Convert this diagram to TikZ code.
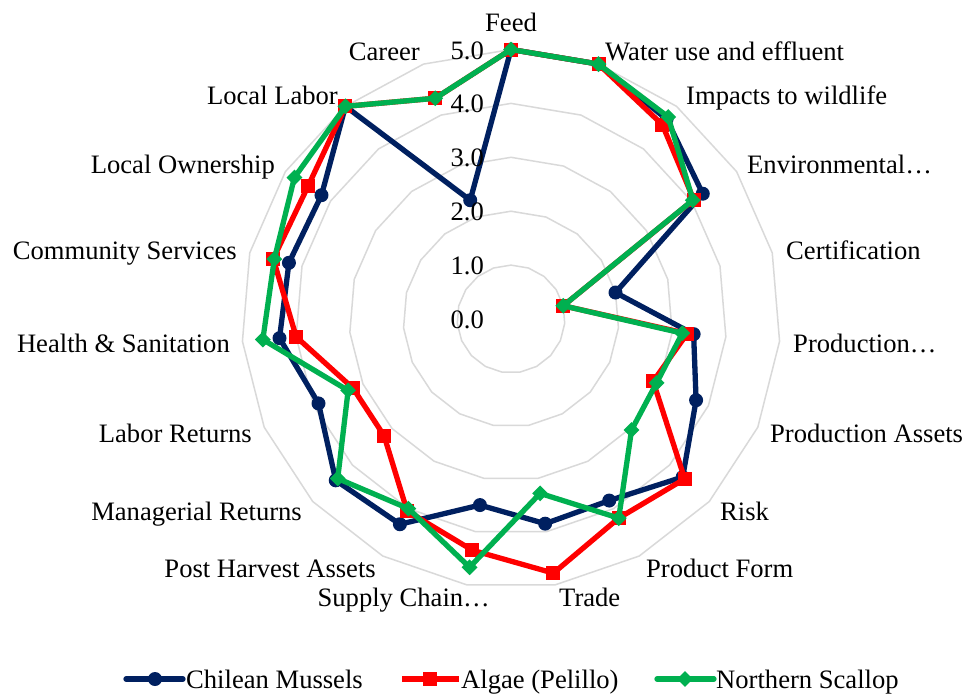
\documentclass[tikz,border=0pt]{standalone}
\usepackage{fontspec}
\setmainfont{Liberation Serif}
\usetikzlibrary{shapes.geometric}
\definecolor{cmnavy}{HTML}{002060}
\definecolor{algred}{HTML}{FF0000}
\definecolor{scgreen}{HTML}{00B050}
\definecolor{gridgray}{HTML}{D9D9D9}
\begin{document}
\begin{tikzpicture}[x=1pt,y=-1pt,
  gridring/.style={draw=gridgray,line width=1.5pt},
  serie/.style={line width=5.3pt,line join=round},
  lbl/.style={inner sep=0pt,font=\fontsize{26.6}{30}\selectfont},
  navymk/.style={circle,fill=cmnavy,inner sep=0pt,minimum size=14pt},
  redmk/.style={rectangle,fill=algred,inner sep=0pt,minimum size=14pt},
  greenmk/.style={diamond,fill=scgreen,inner sep=0pt,minimum size=16pt},
]
\fill[white] (0,0) rectangle (966,696);
\useasboundingbox (0,0) rectangle (966,696);

\begin{scope}[shift={(511,319)}]
% grid rings
\foreach \k in {1,...,5}{
  \draw[gridring] (-90:\k*53.9) \foreach \i in {1,...,18}{ -- (\i*360/19-90:\k*53.9)} -- cycle;
}
% data points
\foreach \v [count=\i from 0] in {5,5,4.7,4.25,2,3.4,3.75,4.33,3.83,3.85,3.5,4.33,4.42,3.9,4.31,4.25,4.2,5,2.33}
  \coordinate (c\i) at (\i*360/19-90:\v*53.9);
\foreach \v [count=\i from 0] in {5,5,4.57,4.05,1,3.28,2.88,4.38,4.2,4.78,4.35,4.05,3.2,3.2,4.0,4.55,4.5,5,4.33}
  \coordinate (a\i) at (\i*360/19-90:\v*53.9);
\foreach \v [count=\i from 0] in {5,5,4.75,4.03,1,3.19,2.95,3.04,4.2,3.28,4.67,4.0,4.37,3.3,4.62,4.53,4.8,5,4.33}
  \coordinate (s\i) at (\i*360/19-90:\v*53.9);
\end{scope}

% series
\draw[serie,cmnavy] (c0) \foreach \i in {1,...,18}{ -- (c\i)} -- cycle;
\foreach \i in {0,...,18} \node[navymk] (cmk\i) at (c\i) {};
\draw[serie,algred] (a0) \foreach \i in {1,...,18}{ -- (a\i)} -- cycle;
\foreach \i in {0,...,18} \node[redmk] (amk\i) at (a\i) {};
\draw[serie,scgreen] (s0) \foreach \i in {1,...,18}{ -- (s\i)} -- cycle;
\foreach \i in {0,...,18} \node[greenmk] (smk\i) at (s\i) {};

% value labels
\foreach \k in {0,...,5}
  \node[lbl,anchor=base east] (v\k) at (484,{319-\k*53.9+9.5}) {\k.0};

% category labels
\node[lbl,anchor=base] (t0) at (511,31) {Feed};
\node[lbl,anchor=base west] (t1) at (605,60) {Water use and effluent};
\node[lbl,anchor=base west] (t2) at (686,104) {Impacts to wildlife};
\node[lbl,anchor=base west] (t3) at (747,173) {Environmental…};
\node[lbl,anchor=base west] (t4) at (786,259) {Certification};
\node[lbl,anchor=base west] (t5) at (793,352) {Production…};
\node[lbl,anchor=base west] (t6) at (770,442) {Production Assets};
\node[lbl,anchor=base west] (t7) at (720,520) {Risk};
\node[lbl,anchor=base west] (t8) at (646,577) {Product Form};
\node[lbl,anchor=base west] (t9) at (559,606) {Trade};
\node[lbl,anchor=base east] (t10) at (490,606) {Supply Chain…};
\node[lbl,anchor=base east] (t11) at (376,577) {Post Harvest Assets};
\node[lbl,anchor=base east] (t12) at (302,520) {Managerial Returns};
\node[lbl,anchor=base east] (t13) at (252,442) {Labor Returns};
\node[lbl,anchor=base east] (t14) at (230,352) {Health \& Sanitation};
\node[lbl,anchor=base east] (t15) at (237,259) {Community Services};
\node[lbl,anchor=base east] (t16) at (275,173) {Local Ownership};
\node[lbl,anchor=base east] (t17) at (338,104) {Local Labor};
\node[lbl,anchor=base east] (t18) at (420,60) {Career};

% legend
\coordinate (l1a) at (126,679); \coordinate (l1b) at (183,679);
\draw[serie,cmnavy,line cap=round] (l1a) -- (l1b);
\node[navymk] (lm1) at (155,679) {};
\node[lbl,anchor=base west] (lt1) at (186,688) {Chilean Mussels};
\coordinate (l2a) at (402,679); \coordinate (l2b) at (459,679);
\draw[serie,algred] (l2a) -- (l2b);
\node[redmk] (lm2) at (430,679) {};
\node[lbl,anchor=base west] (lt2) at (461,688) {Algae (Pelillo)};
\coordinate (l3a) at (657,679); \coordinate (l3b) at (714,679);
\draw[serie,scgreen,line cap=round] (l3a) -- (l3b);
\node[greenmk] (lm3) at (685,679) {};
\node[lbl,anchor=base west] (lt3) at (716,688) {Northern Scallop};
\end{tikzpicture}
\end{document}
